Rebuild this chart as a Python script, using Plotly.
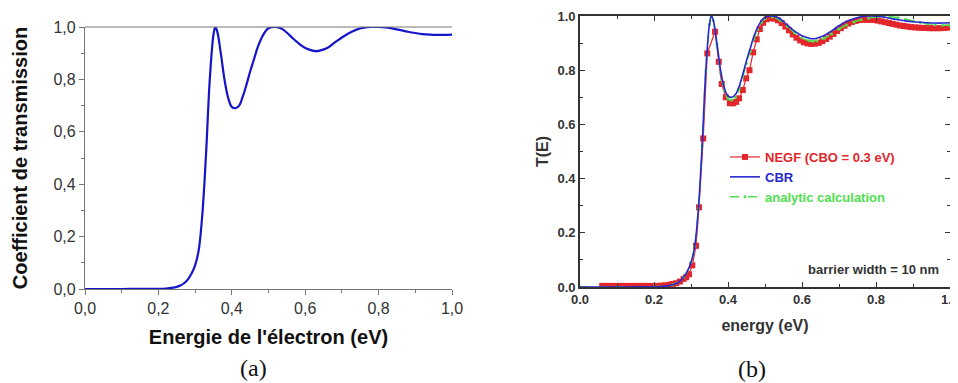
import plotly.graph_objects as go

# ---------------- data: panel (a) ----------------
E_A = [0.00, 0.05, 0.10, 0.15, 0.20, 0.22, 0.24, 0.25, 0.26, 0.27, 0.28, 0.29, 0.30, 0.31,
       0.32, 0.33, 0.34, 0.35, 0.355, 0.36, 0.37, 0.38, 0.39, 0.40, 0.41, 0.42, 0.43, 0.44,
       0.45, 0.46, 0.47, 0.48, 0.49, 0.50, 0.52, 0.54, 0.56, 0.58, 0.60, 0.62, 0.63, 0.64,
       0.66, 0.68, 0.70, 0.72, 0.74, 0.76, 0.78, 0.80, 0.82, 0.84, 0.86, 0.88, 0.90, 0.92,
       0.94, 0.96, 0.98, 1.00]
T_A = [0.0, 0.0, 0.0, 0.0005, 0.001, 0.002, 0.005, 0.008, 0.013, 0.022, 0.036, 0.058, 0.09, 0.15,
       0.29, 0.52, 0.80, 0.97, 1.0, 0.985, 0.90, 0.80, 0.73, 0.695, 0.69, 0.70, 0.735, 0.78,
       0.83, 0.875, 0.92, 0.955, 0.98, 0.995, 1.0, 0.99, 0.965, 0.94, 0.92, 0.91, 0.908, 0.91,
       0.92, 0.94, 0.96, 0.977, 0.99, 0.997, 1.0, 1.0, 0.998, 0.994, 0.988, 0.982, 0.977, 0.973,
       0.971, 0.970, 0.970, 0.971]

# ---------------- data: panel (b) ----------------
E_CBR = [0.00, 0.05, 0.10, 0.15, 0.20, 0.22, 0.24, 0.25, 0.26, 0.27, 0.28, 0.29, 0.30, 0.31,
         0.32, 0.33, 0.34, 0.35, 0.355, 0.36, 0.37, 0.38, 0.39, 0.40, 0.41, 0.42, 0.43, 0.44,
         0.45, 0.46, 0.47, 0.48, 0.49, 0.50, 0.52, 0.54, 0.56, 0.58, 0.60, 0.62, 0.63, 0.64,
         0.66, 0.68, 0.70, 0.72, 0.74, 0.76, 0.78, 0.80, 0.82, 0.84, 0.86, 0.88, 0.90, 0.92,
         0.94, 0.96, 0.98, 1.00]
T_CBR = [0.0, 0.0, 0.0, 0.0005, 0.001, 0.002, 0.005, 0.008, 0.013, 0.022, 0.036, 0.058, 0.09, 0.15,
         0.29, 0.52, 0.80, 0.97, 1.0, 0.985, 0.90, 0.80, 0.735, 0.705, 0.70, 0.71, 0.74, 0.785,
         0.835, 0.88, 0.925, 0.958, 0.982, 0.995, 1.0, 0.99, 0.967, 0.944, 0.927, 0.918, 0.916, 0.918,
         0.928, 0.945, 0.964, 0.98, 0.99, 0.997, 1.0, 0.999, 0.996, 0.991, 0.986, 0.982, 0.979, 0.977,
         0.975, 0.974, 0.974, 0.975]

E_AN = [0.00, 0.10, 0.20, 0.25, 0.28, 0.30, 0.31, 0.32, 0.33, 0.34, 0.35, 0.355, 0.36, 0.37,
        0.38, 0.39, 0.40, 0.41, 0.42, 0.43, 0.44, 0.45, 0.46, 0.47, 0.48, 0.49, 0.50, 0.52,
        0.54, 0.56, 0.58, 0.60, 0.62, 0.63, 0.64, 0.66, 0.68, 0.70, 0.72, 0.74, 0.76, 0.78,
        0.80, 0.82, 0.84, 0.86, 0.88, 0.90, 0.92, 0.94, 0.96, 0.98, 1.00]
T_AN = [0.0, 0.0, 0.001, 0.008, 0.036, 0.09, 0.15, 0.29, 0.52, 0.80, 0.97, 0.998, 0.983, 0.895,
        0.79, 0.725, 0.695, 0.69, 0.70, 0.73, 0.775, 0.825, 0.87, 0.915, 0.95, 0.976, 0.99, 0.996,
        0.985, 0.962, 0.938, 0.92, 0.909, 0.907, 0.909, 0.918, 0.934, 0.952, 0.967, 0.978, 0.986, 0.992,
        0.996, 0.998, 0.997, 0.994, 0.988, 0.982, 0.976, 0.971, 0.968, 0.966, 0.966]

E_NEGF = [0.06, 0.07, 0.08, 0.09, 0.10, 0.11, 0.12, 0.13, 0.14, 0.15, 0.16, 0.17, 0.18, 0.19,
          0.20, 0.21, 0.22, 0.23, 0.24, 0.25, 0.26, 0.27, 0.28, 0.287, 0.2946, 0.3036, 0.3135,
          0.3216, 0.333, 0.344, 0.365, 0.375, 0.383, 0.394, 0.405, 0.414, 0.422, 0.43, 0.44,
          0.449, 0.458, 0.468, 0.4775, 0.486, 0.495, 0.505, 0.515, 0.525, 0.535, 0.545, 0.555,
          0.565, 0.575, 0.585, 0.595, 0.605, 0.615, 0.625, 0.635, 0.645, 0.655, 0.665, 0.675,
          0.685, 0.695, 0.705, 0.715, 0.725, 0.735, 0.745, 0.755, 0.765, 0.775, 0.785, 0.795,
          0.805, 0.815, 0.825, 0.835, 0.845, 0.855, 0.865, 0.875, 0.885, 0.895, 0.905, 0.915,
          0.925, 0.935, 0.945, 0.955, 0.965, 0.975, 0.985, 0.995]
T_NEGF = [0.004, 0.004, 0.004, 0.004, 0.004, 0.004, 0.004, 0.004, 0.004, 0.004, 0.004, 0.004, 0.004, 0.004,
          0.004, 0.004, 0.005, 0.006, 0.008, 0.011, 0.014, 0.02, 0.03, 0.036, 0.047, 0.08, 0.152,
          0.294, 0.548, 0.862, 0.942, 0.831, 0.749, 0.70, 0.678, 0.678, 0.683, 0.696, 0.727,
          0.77, 0.80, 0.866, 0.914, 0.952, 0.975, 0.988, 0.992, 0.99, 0.984, 0.974, 0.961,
          0.947, 0.932, 0.92, 0.91, 0.903, 0.899, 0.897, 0.898, 0.901, 0.907, 0.915, 0.924,
          0.934, 0.945, 0.955, 0.964, 0.972, 0.978, 0.982, 0.985, 0.986, 0.986, 0.986, 0.985,
          0.983, 0.98, 0.977, 0.974, 0.971, 0.968, 0.965, 0.963, 0.961, 0.959, 0.958, 0.957,
          0.956, 0.956, 0.955, 0.955, 0.955, 0.955, 0.956, 0.957]

TICKS = [0.0, 0.2, 0.4, 0.6, 0.8, 1.0]
MINOR_TICKS = [0.1, 0.3, 0.5, 0.7, 0.9]
TICK_LABELS_A = ["0,0", "0,2", "0,4", "0,6", "0,8", "1,0"]
TICK_LABELS_B = ["0.0", "0.2", "0.4", "0.6", "0.8", "1.0"]

SANS = "Liberation Sans, Arial, sans-serif"
SERIF = "Liberation Serif, Times New Roman, serif"
RED = "#e3262b"
BLUE = "#2727d0"
GREEN = "#4ee04e"

# The page places the figure 8 px in from the top-left corner (body margin),
# so the figure is sized to the visible area and page positions are shifted.
OFF = 8
W, H = 958 - OFF, 383 - OFF


def fx(px):
    return (px - OFF) / W


def fy(py):
    return 1 - (py - OFF) / H


fig = go.Figure()

# panel (a)
fig.add_trace(go.Scatter(x=E_A, y=T_A, mode="lines", line=dict(color="#1515c8", width=2.2, shape="spline"),
                         showlegend=False, xaxis="x", yaxis="y"))

# panel (b)
fig.add_trace(go.Scatter(x=E_NEGF, y=T_NEGF, mode="lines+markers",
                         name='<span style="color:%s">NEGF (CBO = 0.3 eV)</span>' % RED,
                         line=dict(color=RED, width=1.2), marker=dict(symbol="square", size=6, color=RED),
                         legendrank=1, xaxis="x2", yaxis="y2"))
fig.add_trace(go.Scatter(x=E_AN, y=T_AN, mode="lines+markers",
                         name='<span style="color:%s">analytic calculation</span>' % GREEN,
                         line=dict(color=GREEN, width=1.5, dash="dash", shape="spline"),
                         marker=dict(symbol="circle", size=3, color=GREEN),
                         legendrank=3, xaxis="x2", yaxis="y2"))
fig.add_trace(go.Scatter(x=E_CBR, y=T_CBR, mode="lines",
                         name='<span style="color:%s">CBR</span>' % BLUE,
                         line=dict(color=BLUE, width=1.6, shape="spline"),
                         legendrank=2, xaxis="x2", yaxis="y2"))

axA = dict(range=[0, 1], showgrid=False, zeroline=False, showline=True, linecolor="#777", linewidth=1.2,
           automargin=False,
           ticks="outside", ticklen=5, tickcolor="#777", tickvals=TICKS,
           minor=dict(tickvals=MINOR_TICKS, ticks="outside", ticklen=3, tickcolor="#777"),
           tickfont=dict(family=SANS, size=16, color="#333"))
axB = dict(range=[0, 1], showgrid=False, zeroline=False, showline=True, linecolor="#333", linewidth=1.6,
           automargin=False, ticklabeloverflow="allow",
           mirror="ticks", ticks="inside", ticklen=5, tickcolor="#333", tickvals=TICKS,
           ticktext=TICK_LABELS_B,
           minor=dict(tickvals=MINOR_TICKS, ticks="inside", ticklen=3, tickcolor="#333"),
           tickfont=dict(family=SANS, size=13, color="#333", weight="bold"))

fig.update_layout(
    template="none",
    width=W, height=H, margin=dict(l=0, r=0, t=0, b=0, autoexpand=False),
    paper_bgcolor="white", plot_bgcolor="white",
    xaxis=dict(axA, domain=[fx(85), fx(452)], anchor="y", ticktext=TICK_LABELS_A,
               title=dict(text="Energie de l'électron (eV)", standoff=13,
                          font=dict(family=SANS, size=20, color="#111", weight="bold"))),
    yaxis=dict(axA, domain=[fy(289), fy(27)], anchor="x", ticktext=TICK_LABELS_A,
               title=dict(text="Coefficient de transmission", standoff=20,
                          font=dict(family=SANS, size=20, color="#111", weight="bold"))),
    xaxis2=dict(axB, domain=[fx(580), fx(950)], anchor="y2",
                title=dict(text="energy (eV)", standoff=13,
                           font=dict(family=SANS, size=16, color="#333", weight="bold"))),
    yaxis2=dict(axB, domain=[fy(287), fy(16)], anchor="x2",
                title=dict(text="T(E)", standoff=5,
                           font=dict(family=SANS, size=16, color="#333", weight="bold"))),
    legend=dict(x=fx(725), y=fy(142), xanchor="left", yanchor="top",
                bgcolor="rgba(0,0,0,0)", borderwidth=0, itemwidth=30, tracegroupgap=0,
                font=dict(family=SANS, size=13, weight="bold")),
    showlegend=True,
)

# top border of panel (a)
fig.add_shape(type="line", xref="x domain", yref="y domain", x0=0, x1=1, y0=1, y1=1,
              line=dict(color="#777", width=1.2))

fig.add_annotation(text="barrier width = 10 nm", xref="x2 domain", yref="y2 domain", x=0.975, y=0.065,
                   xanchor="right", yanchor="middle", showarrow=False,
                   font=dict(family=SANS, size=13, color="#333", weight="bold"))
fig.add_annotation(text="(a)", xref="paper", yref="paper", x=fx(253), y=fy(368),
                   xanchor="center", yanchor="middle", showarrow=False,
                   font=dict(family=SERIF, size=24, color="#111"))
fig.add_annotation(text="(b)", xref="paper", yref="paper", x=fx(752), y=fy(369),
                   xanchor="center", yanchor="middle", showarrow=False,
                   font=dict(family=SERIF, size=24, color="#111"))

fig.write_html("out.html")
